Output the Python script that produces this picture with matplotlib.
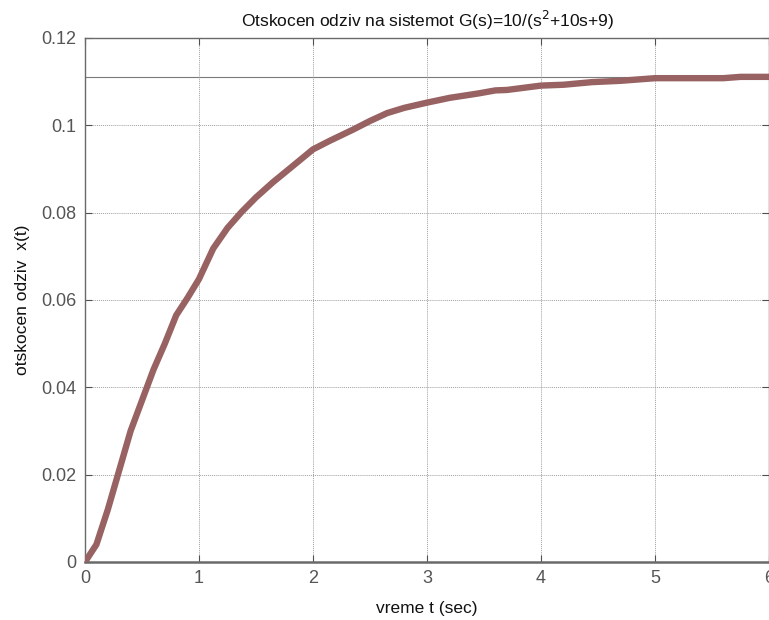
import numpy as np
import matplotlib
matplotlib.use('Agg')
import matplotlib.pyplot as plt

# --- Data ---
t = [0, 0.1, 0.2, 0.3, 0.4, 0.5, 0.6, 0.7, 0.8, 0.9, 1.0, 1.125, 1.25, 1.375,
     1.5, 1.65, 1.8, 2.0, 2.15, 2.35, 2.5, 2.65, 2.8, 3.0, 3.2, 3.45, 3.6, 3.7,
     4.0, 4.2, 4.45, 4.7, 5.0, 5.3, 5.6, 5.75, 6.0]
x_t = [0, 0.004, 0.012, 0.021, 0.030, 0.037, 0.044, 0.050, 0.0565, 0.0605, 0.0648,
       0.0718, 0.0765, 0.0802, 0.0835, 0.087, 0.0902, 0.0945, 0.0965, 0.099,
       0.101, 0.1028, 0.104, 0.1052, 0.1063, 0.1073, 0.108, 0.1081, 0.1091,
       0.1093, 0.1099, 0.1102, 0.1108, 0.1108, 0.1108, 0.1111, 0.1111]
steady_state = 0.1111
xticks = [0, 1, 2, 3, 4, 5, 6]
yticks = [0, 0.02, 0.04, 0.06, 0.08, 0.1, 0.12]
ytick_labels = ['0', '0.02', '0.04', '0.06', '0.08', '0.1', '0.12']

plt.rcParams['font.family'] = ['Liberation Sans Narrow', 'Liberation Sans', 'DejaVu Sans']

fig = plt.figure(figsize=(7.69, 6.2), dpi=100)
ax = fig.add_axes([85 / 769, 58 / 620, 684 / 769, 524 / 620])

ax.axhline(steady_state, color='#7a7a7a', lw=0.8, zorder=1)
ax.plot(t, x_t, color='#986262', lw=4.6, solid_joinstyle='miter', zorder=3)

ax.set_xlim(0, 6)
ax.set_ylim(0, 0.12)
ax.set_xticks(xticks)
ax.set_yticks(yticks)
ax.set_yticklabels(ytick_labels)
ax.grid(True, color='#a0a0a0', lw=0.7, linestyle=(0, (1, 1)))

for side in ['left', 'top', 'right']:
    ax.spines[side].set_color('#6a6a6a')
    ax.spines[side].set_linewidth(1.0)
ax.spines['bottom'].set_color('#6a6a6a')
ax.spines['bottom'].set_linewidth(1.8)

ax.tick_params(direction='in', length=5, width=0.8, color='#505050',
               top=True, right=True, labelsize=13, labelcolor='#555555', pad=6)

ax.set_title('Otskocen odziv na sistemot G(s)=10/(s$^2$+10s+9)',
             fontsize=12.5, color='#111111', pad=8)
ax.set_xlabel('vreme t (sec)', fontsize=12.5, color='#111111', labelpad=10)
ax.set_ylabel('otskocen odziv  x(t)', fontsize=12.5, color='#111111', labelpad=8)

fig.savefig('out.png', dpi=100)
